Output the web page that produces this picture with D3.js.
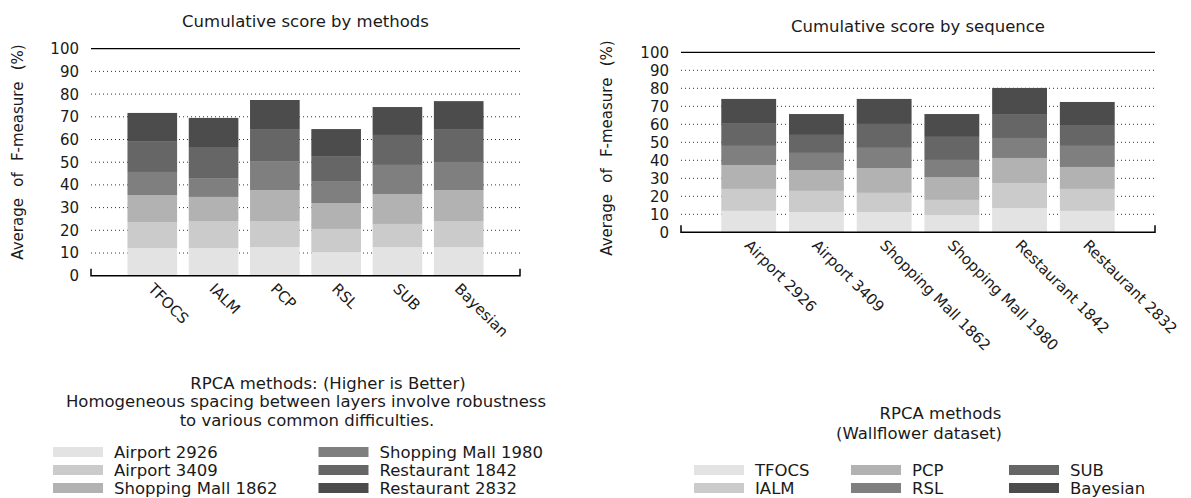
<!DOCTYPE html>
<html>
<head>
<meta charset="utf-8">
<script src="https://cdn.jsdelivr.net/npm/d3@7"></script>
<style>
	body { margin: 0; background: #fff; }
	text { font-family: "DejaVu Sans", sans-serif; fill: #1a1a1a; }
</style>
</head>
<body>
<svg width="1191" height="498"></svg>
<script>
const methods = ['TFOCS', 'IALM', 'PCP', 'RSL', 'SUB', 'Bayesian']
const sequences = ['Airport 2926', 'Airport 3409', 'Shopping Mall 1862', 'Shopping Mall 1980', 'Restaurant 1842', 'Restaurant 2832']
const yTicks = [0, 10, 20, 30, 40, 50, 60, 70, 80, 90, 100]
const shades = ['#e3e3e3', '#cbcbcb', '#b2b2b2', '#7f7f7f', '#666666', '#4c4c4c']

// left chart: one layer per sequence, values across methods
const airport2926 = [12.2, 12.2, 12.6, 10.4, 12.6, 12.6]
const airport3409 = [11.4, 11.9, 11.5, 10.2, 10.2, 11.5]
const mall1862 = [11.9, 10.6, 13.6, 11.4, 13.2, 13.6]
const mall1980 = [10.2, 8.3, 12.8, 9.7, 12.8, 12.4]
const rest1842 = [13.6, 13.7, 14.1, 11.0, 13.2, 14.5]
const rest2832 = [12.4, 12.8, 12.8, 11.9, 12.3, 12.3]

// right chart: one layer per method, values across sequences
const tfocs = [11.9, 11.3, 11.3, 9.6, 13.5, 11.9]
const ialm = [12.2, 11.7, 10.6, 8.4, 13.9, 12.2]
const pcp = [13.3, 11.6, 13.8, 12.7, 13.9, 12.2]
const rsl = [10.6, 9.5, 11.2, 9.5, 11.1, 11.7]
const sub = [12.7, 10.0, 13.3, 12.8, 13.3, 11.6]
const bayesian = [13.4, 11.6, 13.9, 12.7, 14.5, 12.8]

const svg = d3.select('svg')

const drawChart = (opts) => {
	const {cats, layers, names, x0, x1, y0, y1, title, titleY, tickX, ytitleX, ytitleY} = opts
	const g = svg.append('g')

	const rows = cats.map((c, i) => {
		const r = {cat: c}
		names.forEach((n, j) => { r[n] = layers[j][i] })
		return r
	})
	const stacked = d3.stack().keys(names)(rows)

	const x = d3.scalePoint().domain(cats).range([x0, x1]).padding(1)
	const y = d3.scaleLinear().domain([0, 100]).range([y0, y1])
	const bw = x.step() * 0.81

	// dotted grid
	g.selectAll('line.grid')
		.data(yTicks.filter(t => t > 0 && t < 100))
		.join('line')
		.attr('x1', x0).attr('x2', x1)
		.attr('y1', d => y(d)).attr('y2', d => y(d))
		.attr('stroke', '#333')
		.attr('stroke-width', 1)
		.attr('stroke-dasharray', '1,3')

	g.selectAll('g.layer')
		.data(stacked)
		.join('g')
		.attr('fill', (d, i) => shades[i])
		.selectAll('rect')
		.data(d => d)
		.join('rect')
		.attr('x', d => x(d.data.cat) - bw / 2)
		.attr('width', bw)
		.attr('y', d => y(d[1]))
		.attr('height', d => y(d[0]) - y(d[1]))

	// top line and bottom frame
	g.append('line')
		.attr('x1', x0).attr('x2', x1)
		.attr('y1', y(100)).attr('y2', y(100))
		.attr('stroke', '#000').attr('stroke-width', 1.3)
	g.append('path')
		.attr('d', `M${x0},${y0 - 7}V${y0}H${x1}V${y0 - 7}`)
		.attr('fill', 'none')
		.attr('stroke', '#000').attr('stroke-width', 1.5)

	g.selectAll('text.ytick')
		.data(yTicks)
		.join('text')
		.attr('x', tickX)
		.attr('y', d => y(d))
		.attr('dy', '0.36em')
		.attr('text-anchor', 'end')
		.style('font-size', '15px')
		.text(d => d)

	g.selectAll('text.xtick')
		.data(cats)
		.join('text')
		.attr('transform', d => `translate(${x(d) + 3},${y0 + 6}) rotate(45)`)
		.attr('dy', '0.76em')
		.style('font-size', '15px')
		.text(d => d)

	g.append('text')
		.attr('transform', `translate(${ytitleX},${ytitleY}) rotate(-90)`)
		.attr('text-anchor', 'middle')
		.attr('dy', '0.36em')
		.style('font-size', '15px')
		.style('word-spacing', '6.5px')
		.text('Average of F-measure (%)')

	g.append('text')
		.attr('x', (x0 + x1) / 2)
		.attr('y', titleY)
		.attr('dy', '0.36em')
		.attr('text-anchor', 'middle')
		.style('font-size', '16.5px')
		.text(title)
}

const drawLegend = (opts) => {
	const {names, cols, rowY, caption} = opts
	const g = svg.append('g')
	caption.forEach(c => {
		g.append('text')
			.attr('x', c.x).attr('y', c.y)
			.attr('dy', '0.36em')
			.attr('text-anchor', 'middle')
			.style('font-size', '16.5px')
			.text(c.text)
	})
	const per = rowY.length
	names.forEach((n, i) => {
		const cx = cols[Math.floor(i / per)]
		const cy = rowY[i % per]
		g.append('rect')
			.attr('x', cx).attr('y', cy - 5)
			.attr('width', 50).attr('height', 10)
			.attr('fill', shades[i])
		g.append('text')
			.attr('x', cx + 61).attr('y', cy)
			.attr('dy', '0.36em')
			.style('font-size', '16.5px')
			.text(n)
	})
}

drawChart({
	cats: methods,
	layers: [airport2926, airport3409, mall1862, mall1980, rest1842, rest2832],
	names: sequences,
	x0: 91, x1: 520, y0: 275.7, y1: 48.7,
	title: 'Cumulative score by methods', titleY: 21,
	tickX: 79, ytitleX: 18, ytitleY: 152
})

drawChart({
	cats: sequences,
	layers: [tfocs, ialm, pcp, rsl, sub, bayesian],
	names: methods,
	x0: 681, x1: 1155, y0: 232.3, y1: 52.3,
	title: 'Cumulative score by sequence', titleY: 26,
	tickX: 669, ytitleX: 607, ytitleY: 148
})

drawLegend({
	names: sequences,
	cols: [53, 318.5],
	rowY: [452, 470, 488],
	caption: [
		{text: 'RPCA methods: (Higher is Better)', x: 328, y: 383},
		{text: 'Homogeneous spacing between layers involve robustness', x: 306, y: 401},
		{text: 'to various common difficulties.', x: 307, y: 420}
	]
})

drawLegend({
	names: methods,
	cols: [694, 851, 1009],
	rowY: [470, 488],
	caption: [
		{text: 'RPCA methods', x: 940.5, y: 413},
		{text: '(Wallflower dataset)', x: 919, y: 433}
	]
})
</script>
</body>
</html>
